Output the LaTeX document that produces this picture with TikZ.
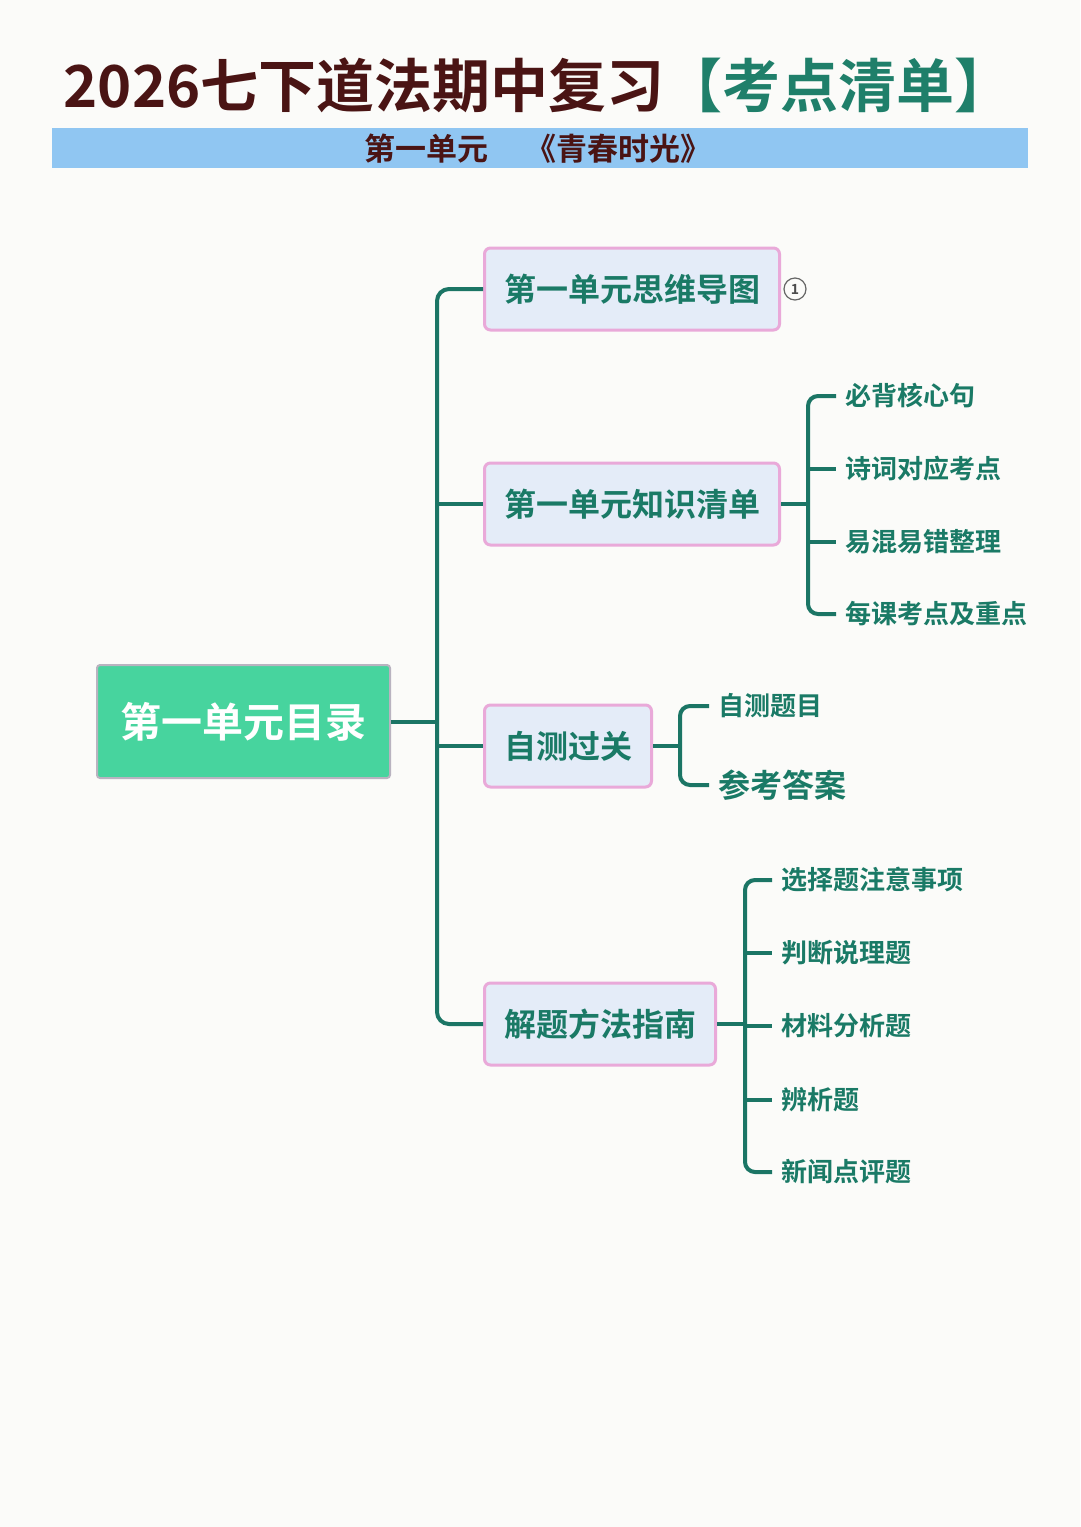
\documentclass[tikz,border=0pt]{standalone}
\usepackage{fontspec}
\setmainfont{Noto Sans CJK SC}[BoldFont={Noto Sans CJK SC Bold}]
\definecolor{bgc}{HTML}{FBFBF9}
\definecolor{titlebrown}{HTML}{4A1414}
\definecolor{titlegreen}{HTML}{1F7F6A}
\definecolor{bandblue}{HTML}{90C6F2}
\definecolor{teal}{HTML}{1B7565}
\definecolor{tealtext}{HTML}{1A7A66}
\definecolor{rootfill}{HTML}{47D49E}
\definecolor{rootborder}{HTML}{B9B3C0}
\definecolor{boxfill}{HTML}{E4ECF8}
\definecolor{boxborder}{HTML}{E9A9D9}
\newcommand{\fsz}[1]{\fontsize{#1}{#1}\selectfont}
\begin{document}
\begin{tikzpicture}[x=1pt,y=-1pt,
  conn/.style={draw=teal,line width=4pt},
  rootbox/.style={draw=rootborder,line width=2pt,fill=rootfill,rounded corners=3pt,
    minimum width=293pt,minimum height=113pt,inner sep=0pt,text=white,font=\fsz{41}\bfseries},
  branchbox/.style={draw=boxborder,line width=3pt,fill=boxfill,rounded corners=6pt,
    minimum height=82pt,inner xsep=19.5pt,inner ysep=0pt,anchor=west,text=tealtext,font=\fsz{32}\bfseries},
  leaf/.style={anchor=west,inner xsep=9pt,inner ysep=0pt,text=tealtext,font=\fsz{26}\bfseries},
  bigleaf/.style={leaf,font=\fsz{32}\bfseries}
]
\useasboundingbox (0,0) rectangle (1080,1527);
\fill[bgc] (0,0) rectangle (1080,1527);

% title
\node[inner sep=0pt,font=\fsz{58}\bfseries] (title) at (538,85)
  {{\color{titlebrown}2026七下道法期中复习}{\color{titlegreen}【考点清单】}};
\fill[bandblue] (52,128) rectangle (1028,168);
\node[inner sep=0pt,text=titlebrown,font=\fsz{31}\bfseries] (sub) at (538,149)
  {第一单元　\,《青春时光》};

% root and branches
\node[rootbox] (root) at (243.5,721.5) {第一单元目录};
\node[branchbox] (b1) at (483,289) {第一单元思维导图};
\node[branchbox] (b2) at (483,504) {第一单元知识清单};
\node[branchbox] (b3) at (483,746) {自测过关};
\node[branchbox] (b4) at (483,1024) {解题方法指南};
\node[draw=gray!80!black,line width=1.2pt,circle,inner sep=0pt,minimum size=22pt,
  font=\fsz{14}\bfseries,text=gray!60!black] (num) at (795,289) {1};

\coordinate (sx) at (437,0);
\draw[conn,rounded corners=12pt] (b1.west) -- (b1.west -| sx) -- (b4.west -| sx) -- (b4.west);
\draw[conn] (b2.west -| sx) -- (b2.west);
\draw[conn] (b3.west -| sx) -- (b3.west);
\draw[conn] (root.east) -- (root.east -| sx);

% knowledge list children
\node[leaf] (k1) at (836,396) {必背核心句};
\node[leaf] (k2) at (836,469) {诗词对应考点};
\node[leaf] (k3) at (836,542) {易混易错整理};
\node[leaf] (k4) at (836,614) {每课考点及重点};
\coordinate (kx) at (808,0);
\draw[conn] (b2.east) -- (b2.east -| kx);
\draw[conn,rounded corners=10pt] (k1.west) -- (k1.west -| kx) -- (k4.west -| kx) -- (k4.west);
\draw[conn] (k2.west -| kx) -- (k2.west);
\draw[conn] (k3.west -| kx) -- (k3.west);

% self test children
\node[leaf] (t1) at (709,706) {自测题目};
\node[bigleaf] (t2) at (709,785) {参考答案};
\coordinate (tx) at (680,0);
\draw[conn] (b3.east) -- (b3.east -| tx);
\draw[conn,rounded corners=10pt] (t1.west) -- (t1.west -| tx) -- (t2.west -| tx) -- (t2.west);

% method children
\node[leaf] (m1) at (772,880) {选择题注意事项};
\node[leaf] (m2) at (772,953) {判断说理题};
\node[leaf] (m3) at (772,1026) {材料分析题};
\node[leaf] (m4) at (772,1100) {辨析题};
\node[leaf] (m5) at (772,1172) {新闻点评题};
\coordinate (mx) at (745,0);
\draw[conn] (b4.east) -- (b4.east -| mx);
\draw[conn,rounded corners=10pt] (m1.west) -- (m1.west -| mx) -- (m5.west -| mx) -- (m5.west);
\draw[conn] (m2.west -| mx) -- (m2.west);
\draw[conn] (m3.west -| mx) -- (m3.west);
\draw[conn] (m4.west -| mx) -- (m4.west);
\end{tikzpicture}
\end{document}
